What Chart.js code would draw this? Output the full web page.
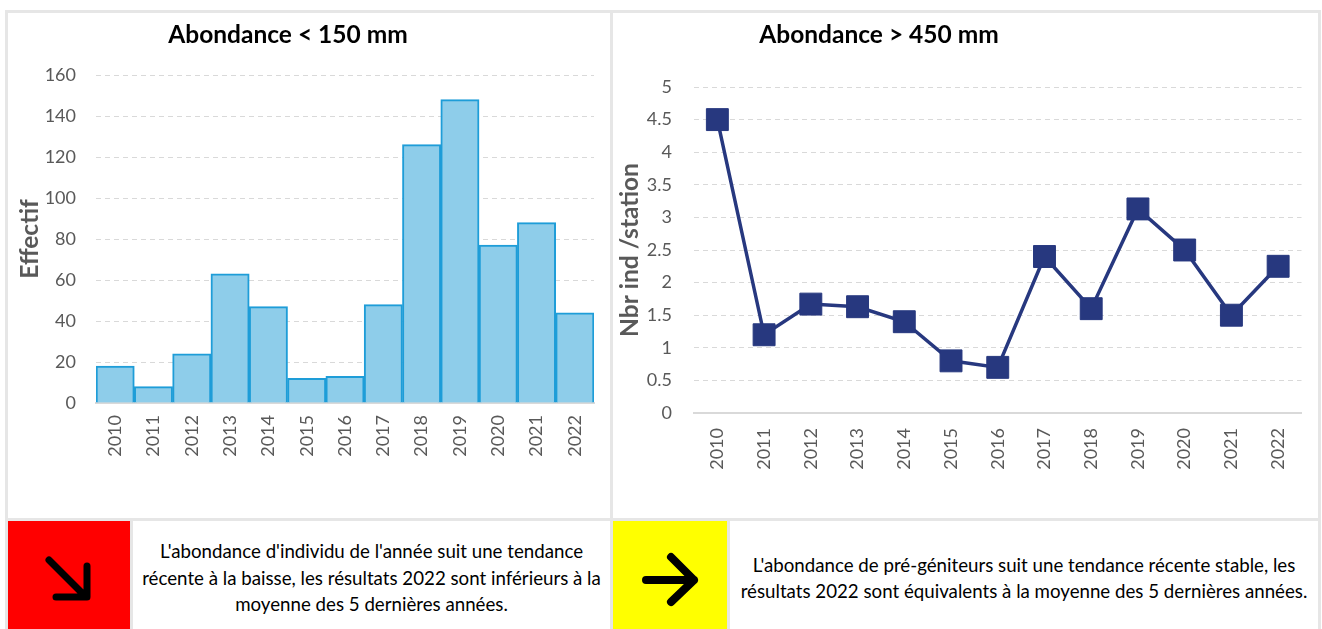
<!DOCTYPE html>
<html><head><meta charset="utf-8">
<script src="https://cdn.jsdelivr.net/npm/chart.js@4.4.1/dist/chart.umd.min.js"></script>
<style>
html,body{margin:0;padding:0;background:#fff;width:1322px;height:629px;overflow:hidden;font-family:Lato,'Open Sans',sans-serif;}
.frame{position:absolute;left:5px;top:10px;width:1316px;height:640px;background:#e6e6e6;}
.cell{position:absolute;background:#fff;}
.title{position:absolute;font-weight:bold;font-size:24.5px;color:#000;white-space:nowrap;transform:translate(-50%,-50%);}
.txt{display:flex;align-items:center;justify-content:center;text-align:center;font-size:18.7px;line-height:26.5px;color:#000;}
svg{position:absolute;left:0;top:0;}
</style></head>
<body>
<div class="frame"></div>
<div class="cell" style="left:8px;top:13px;width:602px;height:505px;"><canvas id="c1" width="602" height="505"></canvas></div>
<div class="cell" style="left:613px;top:13px;width:705px;height:505px;"><canvas id="c2" width="705" height="505"></canvas></div>
<div class="title" style="left:288px;top:33px;">Abondance &lt; 150 mm</div>
<div class="title" style="left:879px;top:33px;">Abondance &gt; 450 mm</div>
<div class="cell" style="left:8px;top:521px;width:122px;height:120px;background:#ff0000;">
<svg width="122" height="120"><path d="M41 39 L75 73 M48 76 L79 76 L79 45" stroke="#000" stroke-width="7" fill="none" stroke-linecap="round" stroke-linejoin="round"/></svg></div>
<div class="cell txt" style="left:133px;top:521px;width:477px;height:114px;"><div>L'abondance d'individu de l'année suit une tendance<br>récente à la baisse, les résultats 2022 sont inférieurs à la<br>moyenne des 5 dernières années.</div></div>
<div class="cell" style="left:613px;top:521px;width:114px;height:120px;background:#ffff00;">
<svg width="114" height="120"><path d="M33 59 L81 59 M58 36 L81 59 L58 81" stroke="#000" stroke-width="8" fill="none" stroke-linecap="round" stroke-linejoin="round"/></svg></div>
<div class="cell txt" style="left:730px;top:521px;width:588px;height:114px;"><div>L'abondance de pré-géniteurs suit une tendance récente stable, les<br>résultats 2022 sont équivalents à la moyenne des 5 dernières années.</div></div>
<script>
const years = ['2010','2011','2012','2013','2014','2015','2016','2017','2018','2019','2020','2021','2022'];
const effectif = [18,8,24,63,47,12,13,48,126,148,77,88,44];
const nbrIndStation = [4.5,1.2,1.67,1.63,1.4,0.8,0.7,2.4,1.6,3.13,2.5,1.5,2.25];
const effectifAxis = {min:0,max:160,step:20};
const stationAxis = {min:0,max:5,step:0.5};

const FONT = "Lato, 'Open Sans', sans-serif";
const GREY = '#595959';
const GRID = '#d9d9d9';

new Chart(document.getElementById('c1'), {
  type:'bar',
  data:{labels:years,datasets:[{data:effectif,backgroundColor:'#8ECDEA',borderColor:'#1E9DD8',borderWidth:2,barPercentage:1,categoryPercentage:1}]},
  options:{responsive:false,animation:false,
    layout:{padding:{top:62,right:16,left:0,bottom:0}},
    plugins:{legend:{display:false},tooltip:{enabled:false}},
    scales:{
      x:{grid:{display:false,drawTicks:false},border:{display:true,color:GRID,width:2},
         ticks:{minRotation:90,maxRotation:90,padding:12,color:GREY,font:{family:FONT,size:18}},
         afterFit(s){s.height=115;}},
      y:{min:effectifAxis.min,max:effectifAxis.max,
         ticks:{stepSize:effectifAxis.step,padding:20,color:GREY,font:{family:FONT,size:18}},
         grid:{color:GRID,drawTicks:false,lineWidth:1},border:{display:false,dash:[5,4]},
         title:{display:true,text:'Effectif',color:GREY,font:{family:FONT,size:24.5,weight:'bold'},padding:{top:7,bottom:0}},
         afterFit(s){s.width=88;}}
    }}
});

new Chart(document.getElementById('c2'), {
  type:'line',
  data:{labels:years,datasets:[{data:nbrIndStation,borderColor:'#27387F',backgroundColor:'#27387F',borderWidth:3.5,
    pointStyle:'rect',pointRadius:15.5,pointBorderWidth:1,pointBackgroundColor:'#27387F',pointBorderColor:'#27387F',tension:0}]},
  options:{responsive:false,animation:false,
    layout:{padding:{top:74,right:16,left:0,bottom:0}},
    plugins:{legend:{display:false},tooltip:{enabled:false}},
    scales:{
      x:{offset:true,grid:{display:false,drawTicks:false},border:{display:true,color:GRID,width:2},
         ticks:{minRotation:90,maxRotation:90,padding:15,color:GREY,font:{family:FONT,size:18}},
         afterFit(s){s.height=105;}},
      y:{min:stationAxis.min,max:stationAxis.max,
         ticks:{stepSize:stationAxis.step,padding:22,color:GREY,font:{family:FONT,size:18},
                callback:v=>String(Math.round(v*10)/10)},
         grid:{color:GRID,drawTicks:false,lineWidth:1},border:{display:false,dash:[5,4]},
         title:{display:true,text:'Nbr ind /station',color:GREY,font:{family:FONT,size:24.5,weight:'bold'},padding:{top:2,bottom:0}},
         afterFit(s){s.width=81;}}
    }}
});
</script>
</body></html>
